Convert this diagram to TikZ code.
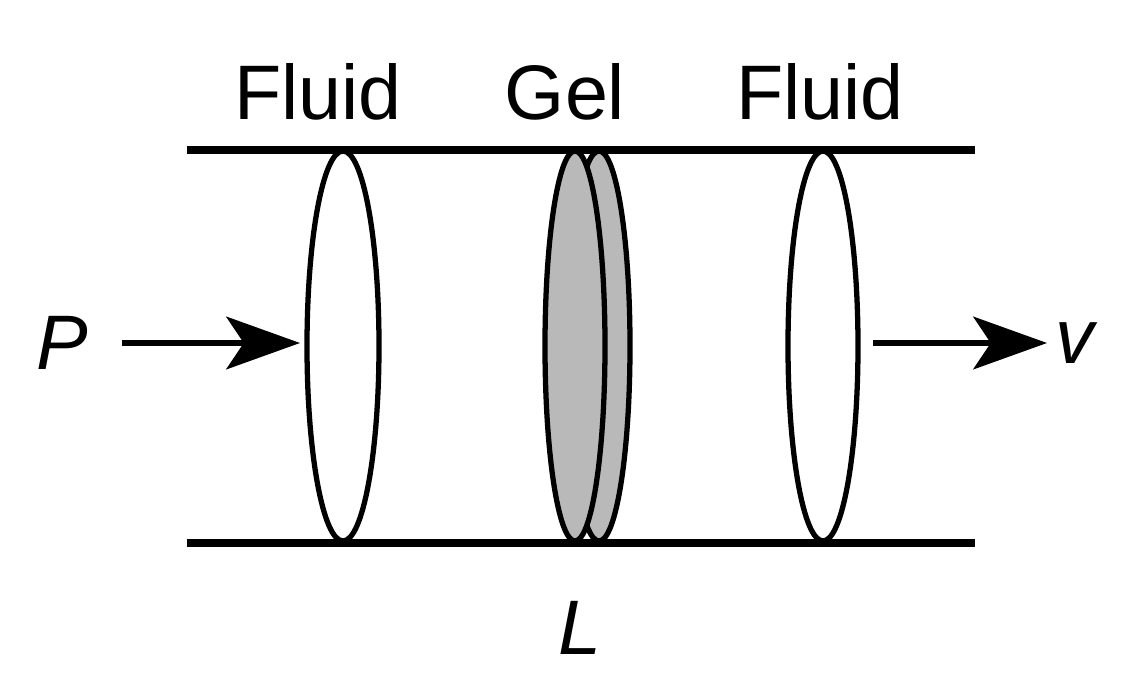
\documentclass[tikz,border=0pt]{standalone}
\usepackage{fontspec}
\setmainfont{Liberation Sans}
\usetikzlibrary{arrows.meta}
\tikzset{
  disc/.style={draw=black, line width=3pt, fill=white},
  wall/.style={line width=5pt},
  push/.style={line width=3pt, -{Stealth[length=42pt, width=30pt, inset=10pt]}},
  lbl/.style={font=\fontsize{44}{50}\selectfont}
}
\begin{document}
\begin{tikzpicture}[x=0.02cm, y=-0.02cm]
    \useasboundingbox (0,0) rectangle (1126,682);
    \draw[wall] (187,150) -- (975,150);
    \draw[wall] (187,543) -- (975,543);

    \draw[disc] (343,346) ellipse (36 and 195);
    \draw[disc] (823,346) ellipse (35 and 195);
    \draw[disc, fill=gray!55] (599,346) ellipse (31 and 195);
    \draw[disc, fill=gray!55] (575,346) ellipse (30 and 195);

    \node[lbl] (f1) at (318,92) {Fluid};
    \node[lbl] (g) at (565,92) {Gel};
    \node[lbl] (f2) at (820,92) {Fluid};
    \node[lbl, font=\fontsize{44}{50}\selectfont\itshape] (p) at (62,343) {P};
    \node[lbl, font=\fontsize{44}{50}\selectfont\itshape] (v) at (1075,343) {v};
    \node[lbl, font=\fontsize{44}{50}\selectfont\itshape] (l) at (580,628) {L};

    \coordinate (a1) at (122,343);
    \coordinate (a2) at (300,343);
    \coordinate (b1) at (873,343);
    \coordinate (b2) at (1047,343);
    \draw[push] (a1) -- (a2);
    \draw[push] (b1) -- (b2);
\end{tikzpicture}
\end{document}
